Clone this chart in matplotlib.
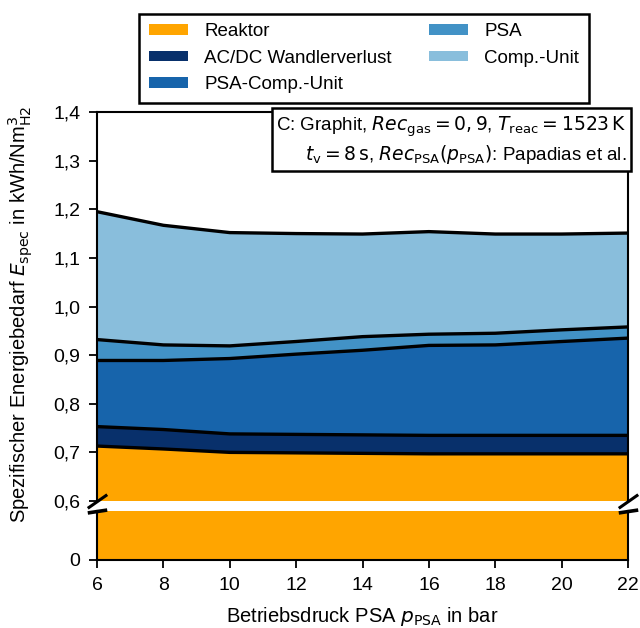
import matplotlib
matplotlib.use("Agg")
import matplotlib.pyplot as plt
import numpy as np

plt.rcParams['font.family'] = ['Liberation Sans', 'DejaVu Sans']
plt.rcParams['mathtext.fontset'] = 'dejavusans'

# Data
p_psa = [6, 8, 10, 12, 14, 16, 18, 20, 22]
reaktor = [0.713, 0.707, 0.700, 0.699, 0.698, 0.697, 0.697, 0.697, 0.697]
acdc = [0.040, 0.040, 0.038, 0.038, 0.038, 0.038, 0.038, 0.038, 0.038]
psa_comp = [0.136, 0.142, 0.155, 0.165, 0.174, 0.185, 0.186, 0.193, 0.200]
psa = [0.043, 0.032, 0.026, 0.026, 0.028, 0.023, 0.024, 0.024, 0.023]
comp_unit = [0.263, 0.246, 0.233, 0.222, 0.211, 0.211, 0.204, 0.197, 0.193]

labels = ['Reaktor', 'AC/DC Wandlerverlust', 'PSA-Comp.-Unit', 'PSA', 'Comp.-Unit']
colors = ['#FFA500', '#08306B', '#1764AB', '#4292C6', '#89BEDC']
series = [reaktor, acdc, psa_comp, psa, comp_unit]

yticks_top = [0.6, 0.7, 0.8, 0.9, 1.0, 1.1, 1.2, 1.3, 1.4]
xticks = [6, 8, 10, 12, 14, 16, 18, 20, 22]

W, H = 640, 628
fig = plt.figure(figsize=(W / 100, H / 100), dpi=100)

left = 97 / W
width = (628 - 97) / W
ax_top = fig.add_axes([left, 1 - 501 / H, width, (501 - 112) / H])
ax_bot = fig.add_axes([left, 1 - 560 / H, width, (560 - 511) / H])

cum = np.cumsum(np.array(series), axis=0)
fsz_tick = 14
fsz_lab = 14.5
fsz_leg = 13.5

for ax in (ax_top, ax_bot):
    ax.stackplot(p_psa, *series, colors=colors, labels=labels, linewidth=0)
    for c in cum:
        ax.plot(p_psa, c, color='black', lw=2.4, solid_capstyle='butt', zorder=3)
    ax.set_xlim(6, 22)
    for s in ax.spines.values():
        s.set_linewidth(1.5)
        s.set_zorder(4)
    ax.tick_params(direction='out', length=6, width=1.3, labelsize=fsz_tick, pad=6)

ax_top.set_ylim(0.6, 1.4)
ax_top.set_yticks(yticks_top)
ax_top.set_yticklabels([f"{v:.1f}".replace('.', ',') for v in yticks_top])
ax_top.spines['bottom'].set_visible(False)
ax_top.tick_params(axis='x', bottom=False, labelbottom=False)

ax_bot.set_ylim(0, 0.1)
ax_bot.set_yticks([0])
ax_bot.set_yticklabels(['0'])
ax_bot.spines['top'].set_visible(False)
ax_bot.set_xticks(xticks)
ax_bot.set_xticklabels([str(x) for x in xticks])
ax_bot.set_xlabel(r'Betriebsdruck PSA $p_{\mathrm{PSA}}$ in bar', fontsize=fsz_lab, labelpad=8)

# break marks
kw_up = dict(marker=[(-1, -0.7), (1, 0.7)], markersize=14, linestyle='none',
             color='k', mec='k', mew=2.2, clip_on=False, zorder=6)
kw_lo = dict(marker=[(-1, -0.15), (1, 0.15)], markersize=14, linestyle='none',
             color='k', mec='k', mew=2.6, clip_on=False, zorder=6)
ax_top.plot([0, 1], [0, 0], transform=ax_top.transAxes, **kw_up)
ax_bot.plot([0, 1], [1, 1], transform=ax_bot.transAxes, **kw_lo)

# y label
fig.text(21 / W, 1 - 314 / H,
         r'Spezifischer Energiebedarf $E_{\mathrm{spec}}$ in kWh/Nm$^3_{\mathrm{H2}}$',
         rotation=90, ha='center', va='center', fontsize=fsz_lab)

# annotation box
ax_top.text(0.998, 0.993,
            'C: Graphit, $Rec_{\\mathrm{gas}} = 0,9$, $T_{\\mathrm{reac}} = 1523\\,\\mathrm{K}$\n'
            '$t_{\\mathrm{v}} = 8\\,\\mathrm{s}$, $Rec_{\\mathrm{PSA}}(p_{\\mathrm{PSA}})$: Papadias et al.',
            transform=ax_top.transAxes, ha='right', va='top', multialignment='right',
            fontsize=fsz_leg, zorder=10, linespacing=1.25,
            bbox=dict(boxstyle='square,pad=0.22', facecolor='white', edgecolor='black', linewidth=1.8))

# legend
handles, lbls = ax_top.get_legend_handles_labels()
leg = fig.legend(handles, lbls, loc='upper center', bbox_to_anchor=(364 / W, 1 - 14 / H),
                 borderaxespad=0,
                 ncol=2, fontsize=fsz_leg, frameon=True, fancybox=False, framealpha=1,
                 edgecolor='black', handlelength=2.1, handleheight=0.5, handletextpad=0.85,
                 columnspacing=2.0, labelspacing=0.5, borderpad=0.5)
leg.get_frame().set_linewidth(1.8)

fig.savefig('out.png', dpi=100)
